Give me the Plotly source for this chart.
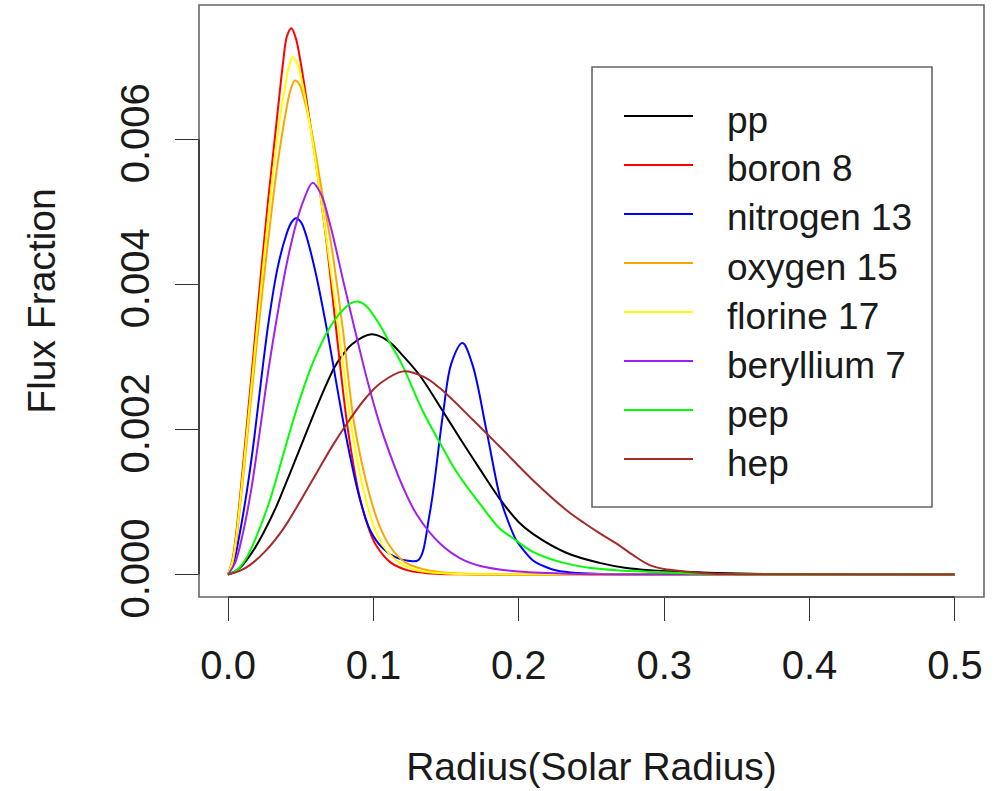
import plotly.graph_objects as go

# ---------------- data (Flux Fraction vs Radius) ----------------
series_names = ["pp", "boron 8", "nitrogen 13", "oxygen 15", "florine 17",
                "beryllium 7", "pep", "hep"]
series_colors = ["#000000", "#FF0000", "#0000FF", "#FFA500", "#FFFF00",
                 "#A020F0", "#00FF00", "#A52A2A"]

pp_x = [0, 0.008, 0.017, 0.025, 0.033, 0.038, 0.0467, 0.0563, 0.0618, 0.0733, 0.079, 0.085,
        0.0987, 0.110, 0.121, 0.132, 0.1456, 0.160, 0.173, 0.187, 0.200, 0.2097, 0.2326,
        0.2555, 0.274, 0.290, 0.324, 0.360, 0.500]
pp_y = [0, 0.00009, 0.00032, 0.00060, 0.00093, 0.00117, 0.00160, 0.00208, 0.00235, 0.00286,
        0.00303, 0.00317, 0.00331, 0.00322, 0.00300, 0.00274, 0.00232, 0.00186, 0.00146,
        0.00104, 0.00072, 0.00056, 0.00030, 0.00016, 0.00009, 0.00006, 0.00003, 0.00001, 0]

boron_x = [0, 0.003, 0.0055, 0.008, 0.011, 0.015, 0.0206, 0.0275, 0.0337, 0.0378, 0.0405,
           0.0435, 0.0465, 0.050, 0.0543, 0.061, 0.0675, 0.0744, 0.0824, 0.0904, 0.097,
           0.1019, 0.1122, 0.125, 0.140, 0.160, 0.200, 0.500]
boron_y = [0, 0.00020, 0.00055, 0.00102, 0.00165, 0.00250, 0.00372, 0.00515, 0.00630,
           0.00705, 0.00742, 0.00753, 0.00740, 0.00705, 0.00650, 0.00560, 0.00462, 0.00337,
           0.00200, 0.00108, 0.00062, 0.00040, 0.00016, 0.00005, 0.000015, 0.000003, 0, 0]

nitrogen_x = [0, 0.004, 0.0076, 0.013, 0.018, 0.023, 0.028, 0.034, 0.040, 0.0435, 0.0467,
              0.050, 0.053, 0.060, 0.0687, 0.075, 0.0812, 0.0904, 0.098, 0.1065, 0.115, 0.124,
              0.131, 0.1387, 0.1479, 0.1536, 0.1612, 0.168, 0.1777, 0.187, 0.1914, 0.198,
              0.2027, 0.210, 0.219, 0.226, 0.240, 0.260, 0.500]
nitrogen_y = [0, 0.00018, 0.00052, 0.00116, 0.00188, 0.00272, 0.00350, 0.00422, 0.00468,
              0.00485, 0.00491, 0.00486, 0.00472, 0.00418, 0.00330, 0.00258, 0.00190,
              0.00106, 0.00060, 0.00036, 0.00024, 0.00019, 0.00020, 0.00084, 0.00222,
              0.00291, 0.00319, 0.00290, 0.00199, 0.00107, 0.00080, 0.00048, 0.00035,
              0.00019, 0.00010, 0.000055, 0.00002, 0.000005, 0]

oxygen_x = [0, 0.003, 0.0055, 0.008, 0.011, 0.015, 0.021, 0.028, 0.034, 0.040, 0.043, 0.046,
            0.049, 0.052, 0.058, 0.064, 0.0717, 0.079, 0.087, 0.0973, 0.104, 0.111, 0.1216,
            0.135, 0.150, 0.200, 0.500]
oxygen_y = [0, 0.00016, 0.00045, 0.00088, 0.00145, 0.00225, 0.00342, 0.00468, 0.00565,
            0.00640, 0.00668, 0.00681, 0.00676, 0.00658, 0.00605, 0.00535, 0.00445, 0.00337,
            0.00205, 0.00110, 0.00068, 0.00040, 0.00017, 0.00007, 0.000025, 0.000003, 0]

florine_x = [0, 0.003, 0.0055, 0.008, 0.011, 0.015, 0.021, 0.028, 0.034, 0.039, 0.0415,
             0.0445, 0.0475, 0.051, 0.055, 0.060, 0.065, 0.0695, 0.0767, 0.0847, 0.0939,
             0.100, 0.1065, 0.118, 0.130, 0.150, 0.200, 0.500]
florine_y = [0, 0.00018, 0.00050, 0.00095, 0.00155, 0.00238, 0.00362, 0.00500, 0.00605,
             0.00670, 0.00697, 0.00713, 0.00705, 0.00678, 0.00635, 0.00572, 0.00502, 0.00435,
             0.00330, 0.00205, 0.00110, 0.00068, 0.00040, 0.00016, 0.00006, 0.000015, 0.000002, 0]

beryllium_x = [0, 0.005, 0.010, 0.016, 0.0213, 0.028, 0.0341, 0.040, 0.047, 0.052, 0.0582,
               0.064, 0.0705, 0.080, 0.0881, 0.096, 0.1042, 0.111, 0.120, 0.130, 0.1456,
               0.160, 0.175, 0.200, 0.220, 0.250, 0.500]
beryllium_y = [0, 0.00017, 0.00055, 0.00118, 0.00190, 0.00285, 0.00360, 0.00425, 0.00485,
               0.00516, 0.00540, 0.00524, 0.00480, 0.00398, 0.00330, 0.00266, 0.00208,
               0.00168, 0.00122, 0.00082, 0.00043, 0.00022, 0.00011, 0.00004, 0.00002,
               0.000005, 0]

pep_x = [0, 0.006, 0.0124, 0.020, 0.0284, 0.0375, 0.0467, 0.056, 0.0618, 0.0678, 0.076,
         0.0847, 0.090, 0.095, 0.1044, 0.111, 0.119, 0.134, 0.1456, 0.157, 0.173, 0.187,
         0.196, 0.210, 0.233, 0.250, 0.267, 0.300, 0.330, 0.500]
pep_y = [0, 0.00006, 0.00022, 0.00055, 0.00100, 0.00162, 0.00225, 0.00280, 0.00308,
         0.00333, 0.00358, 0.00374, 0.00376, 0.00370, 0.00344, 0.00320, 0.00292, 0.00225,
         0.00182, 0.00142, 0.00098, 0.00063, 0.00050, 0.00031, 0.00015, 0.00009, 0.00006,
         0.00003, 0.00001, 0]

hep_x = [0, 0.008, 0.015, 0.026, 0.038, 0.0467, 0.0609, 0.072, 0.0838, 0.095, 0.105,
         0.1204, 0.135, 0.1456, 0.168, 0.187, 0.2097, 0.2326, 0.245, 0.2555, 0.267,
         0.2784, 0.290, 0.300, 0.313, 0.330, 0.350, 0.500]
hep_y = [0, 0.00005, 0.00013, 0.00033, 0.00063, 0.00091, 0.00140, 0.00178, 0.00214,
         0.00244, 0.00264, 0.00280, 0.00272, 0.00257, 0.00214, 0.00176, 0.00130, 0.00089,
         0.00071, 0.00057, 0.00043, 0.00027, 0.00013, 0.000075, 0.000045, 0.000015,
         0.000005, 0]

x_ticks = [0.0, 0.1, 0.2, 0.3, 0.4, 0.5]
y_ticks = [0.000, 0.002, 0.004, 0.006]

series_x = [pp_x, boron_x, nitrogen_x, oxygen_x, florine_x, beryllium_x, pep_x, hep_x]
series_y = [pp_y, boron_y, nitrogen_y, oxygen_y, florine_y, beryllium_y, pep_y, hep_y]

# ---------------- figure ----------------
FONT = "Liberation Sans, Arial, Helvetica, sans-serif"
TXT = "#1a1a1a"
W, H = 1003, 791
L, R, T, B = 199, 19, 5, 194
PW, PH = W - L - R, H - T - B

fig = go.Figure()
for name, col, xs, ys in zip(series_names, series_colors, series_x, series_y):
    fig.add_trace(go.Scatter(x=xs, y=ys, mode="lines", name=name,
                             line=dict(color=col, width=2, shape="spline", smoothing=1.0),
                             showlegend=False))

fig.update_layout(
    width=W, height=H,
    margin=dict(l=L, r=R, t=T, b=B, autoexpand=False),
    paper_bgcolor="white", plot_bgcolor="white",
    font=dict(family=FONT, color=TXT),
    xaxis=dict(range=[-0.02, 0.52], tickvals=x_ticks, tickformat=".1f",
               showgrid=False, zeroline=False, showline=False,
               ticks="outside", ticklen=23, tickwidth=1.3, tickcolor="#333",
               tickfont=dict(size=40, family=FONT, color=TXT), ticklabelstandoff=10,
               title=dict(text="Radius(Solar Radius)", font=dict(size=39, family=FONT, color=TXT),
                          standoff=66),
               automargin=False),
    yaxis=dict(range=[-0.00031, 0.00785], tickvals=y_ticks, tickformat=".3f",
               showgrid=False, zeroline=False, showline=False,
               ticks="outside", ticklen=23, tickwidth=1.3, tickcolor="#333",
               tickangle=-90, tickfont=dict(size=40, family=FONT, color=TXT),
               ticklabelstandoff=10,
               title=dict(text="Flux Fraction", font=dict(size=39, family=FONT, color=TXT),
                          standoff=45),
               automargin=False),
)

# plot box
fig.add_shape(type="rect", xref="paper", yref="paper", x0=0, y0=0, x1=1, y1=1,
              line=dict(color="#666", width=1.6), layer="above")
# axis lines from first to last tick (as R draws them)
fig.add_shape(type="line", xref="x", yref="paper", x0=x_ticks[0], x1=x_ticks[-1], y0=0, y1=0,
              line=dict(color="#333", width=1.6), layer="above")
fig.add_shape(type="line", xref="paper", yref="y", x0=0, x1=0, y0=y_ticks[0], y1=y_ticks[-1],
              line=dict(color="#333", width=1.6), layer="above")

# legend (R style, drawn manually)
def px2x(px):
    return (px - L) / PW

def px2y(py):
    return (H - B - py) / PH

fig.add_shape(type="rect", xref="paper", yref="paper",
              x0=px2x(592), x1=px2x(932), y0=px2y(507), y1=px2y(67),
              line=dict(color="#666", width=1.6), fillcolor="white", layer="above")
row0, step = 116, 49
for i, (name, col) in enumerate(zip(series_names, series_colors)):
    yy = row0 + i * step
    fig.add_shape(type="line", xref="paper", yref="paper",
                  x0=px2x(624), x1=px2x(693), y0=px2y(yy), y1=px2y(yy),
                  line=dict(color=col, width=2), layer="above")
    fig.add_annotation(xref="paper", yref="paper", x=px2x(725), y=px2y(yy + 4),
                       text=name, showarrow=False, xanchor="left", yanchor="middle",
                       font=dict(size=37, family=FONT, color=TXT))

fig.write_html("out.html")
